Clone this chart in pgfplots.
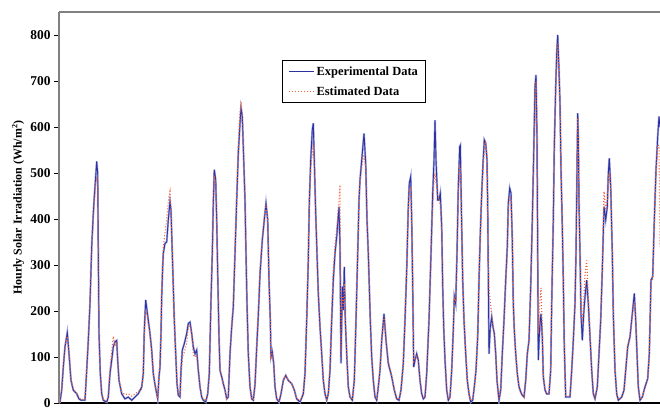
\documentclass[border=0pt]{standalone}
\usepackage{pgfplots}
\pgfplotsset{compat=1.18}
\usepackage{pgfplotstable}
\usepackage{fontspec}
\setmainfont{Liberation Serif}
\definecolor{expblue}{RGB}{45,50,160}
\definecolor{exphalo}{RGB}{165,170,222}
\definecolor{estorange}{RGB}{240,95,55}
\pgfplotstableread{
x exp est
59 0 0
60 2 2
61.7 28 30
63.3 78 80
65 122 125
67.3 153 145
69 107 110
71 49 50
73.3 28 30
76.7 20 22
79 9 12
81 6 8
85 6 8
86.7 71 75
88.3 136 140
90 216 220
91.7 340 330
93.3 412 400
94.3 448 440
95.7 492 480
96.7 525 490
97.7 499 470
98.3 325 320
99 151 150
100.3 64 60
101.7 20 20
103.3 6 8
106.7 2 5
108.3 13 15
110 64 75
111.7 93 110
113.3 122 145
115 133 125
116.7 136 130
117.7 93 95
119 49 50
121.7 20 25
125 9 18
128.3 13 20
131.7 6 15
135 13 20
138.3 20 25
141.7 35 30
143.3 64 60
144.3 158 150
145.7 224 200
147 202 195
148.3 180 170
150 151 150
151.7 115 110
153.3 64 60
155 40 40
156.7 20 20
157.7 9 10
159 57 60
160 78 90
161 151 160
161.7 231 240
162.7 296 310
163.3 325 340
165 347 370
166.7 350 400
168.3 398 440
170 438 460
171 419 420
172.3 325 330
173.3 253 250
174.3 180 180
175.7 107 110
177 42 45
178.3 17 20
180 13 15
181 71 60
182.3 115 100
184.3 129 110
186.7 151 130
188.3 173 165
190 176 170
191.7 151 150
193.3 122 105
195 107 100
196.7 115 105
198.3 71 75
200 35 35
201.7 13 15
203.3 6 8
205.7 2 5
207.7 20 20
209.3 64 70
211 224 230
212.3 325 330
213.3 434 440
214.3 507 490
215.7 485 480
216.7 398 400
217.7 282 290
219 144 150
220 71 75
221.7 57 55
223.3 42 40
225 28 28
226.7 9 10
228.3 13 15
230 107 110
231.7 165 170
233.3 209 215
235 325 330
236.7 441 450
238.3 543 560
240 608 630
241 641 655
242.3 623 630
243.3 557 560
245 441 440
246 325 320
247 216 210
248.3 107 105
250 35 35
251.7 9 10
253.3 6 8
255 40 40
256.7 120 130
258.3 190 200
260 280 290
262.3 354 360
264.3 398 410
266 434 425
267.7 398 400
269 267 270
270.3 180 180
271 100 100
272.3 111 110
273.7 86 85
275 35 35
276.7 9 10
279 2 5
281 20 20
283.3 49 50
285.7 60 60
288.3 49 50
291.7 42 42
294.3 28 28
296.7 9 10
300 2 5
303.3 20 20
305 64 70
306.7 180 190
308.3 311 320
309.3 434 430
310.7 528 510
312.3 594 540
313.3 608 560
314.3 528 520
315.7 412 420
317 325 330
318.3 238 240
320 165 170
321.7 107 110
323.3 49 50
325 20 20
326.7 6 8
328.3 20 20
330 71 80
331.7 180 200
333.3 267 290
335 325 340
336.7 361 380
339 427 440
340 340 474
341 86 100
342.3 253 230
343.3 202 210
344.3 296 260
345.3 180 180
346.7 107 110
348.3 35 35
350 13 13
352.3 6 8
354.3 49 50
356 180 190
357.7 325 330
359 441 440
360 485 480
362.3 543 520
364 586 540
365.7 521 510
367 398 400
368.3 325 330
369.3 253 260
370.3 180 180
371.7 100 100
373.3 49 50
375 13 13
376.7 6 8
378.3 35 35
380 71 75
381.7 136 140
384 194 185
385 165 170
386 136 140
388.3 86 90
391.7 57 60
394.3 28 30
396.7 9 10
399 6 8
401 28 30
403.3 86 90
405 180 190
406.7 289 300
408.3 427 420
409.3 478 460
410.7 492 470
411.7 398 400
412.7 253 260
413.7 78 90
415 93 95
416.7 107 105
418.3 93 90
420 49 50
421.7 20 20
423.3 9 10
425 13 13
426.7 64 65
429 180 180
431 325 320
432.7 456 430
434 528 480
435 615 500
436 528 480
437.7 441 450
439 441 445
440.3 456 430
441.7 383 380
442.7 253 260
443.7 165 170
445 93 95
446.7 28 30
448.3 6 8
450 13 13
451.7 71 75
453.3 158 160
454.3 231 230
455.7 216 220
457 325 330
458.3 470 460
459.7 557 520
460.3 560 500
461.7 383 390
462.7 267 270
464 180 180
465.7 107 110
467.3 49 50
469 20 20
470.7 2 5
472.7 6 8
474.3 35 35
476 71 75
477.7 144 150
479 267 260
480.3 369 360
481.7 456 450
483 521 510
484.3 572 550
485.7 565 565
487 528 540
487.7 427 420
488.3 282 300
489 107 250
490.3 165 220
491.7 187 190
493 165 170
494.3 151 150
495.7 107 110
497 49 50
499 6 8
500.7 28 30
502.3 107 110
504 180 180
505.7 267 260
507.3 340 330
508.3 434 420
509.7 467 450
511 456 440
512.3 354 350
513.3 216 220
514.3 158 160
515.7 107 110
517.3 64 65
519 35 35
520.7 24 25
522.3 17 18
524 13 13
525.7 49 50
527.3 107 105
529 136 135
530.7 253 250
532.3 398 390
533.7 543 530
535 688 670
536 713 700
537 579 580
537.7 325 330
538.3 93 150
539.7 165 220
541 194 250
542.3 144 160
543.3 57 60
545 28 28
546.7 20 20
549 20 20
550.7 71 75
551.7 216 220
553.3 398 400
554.3 557 550
555.7 688 680
556.7 760 750
557.7 800 780
559 724 720
560 652 650
561 507 510
562.3 383 390
563.3 267 270
564.3 122 130
565.7 13 15
567.7 13 15
570 13 15
571.7 71 75
573.3 136 140
575 216 220
576 325 330
577 507 500
577.7 630 620
578.3 579 570
579 434 440
580 325 320
581 194 200
582.3 136 170
583.7 194 220
585 231 280
586.7 267 310
588.3 216 230
590 144 150
591.7 71 75
593.3 20 20
595 9 10
597.3 35 35
599 107 110
600.7 180 180
602.3 289 290
604 427 460
605.7 398 420
607.3 427 440
608.3 499 480
609.3 532 500
610.7 470 470
612.3 325 330
613.3 194 200
615 71 75
616.7 20 20
618.3 6 8
621.7 13 13
624 28 28
625.7 71 75
627.7 122 125
630 144 145
632.3 194 190
634.3 238 220
635.7 180 185
637 107 110
638.3 35 35
640 6 8
642.3 13 13
645 35 35
647.7 53 55
649.3 107 110
651 267 260
652.7 275 270
654.3 398 390
656 507 500
657.7 579 560
659 623 560
660 600 340
}\data

\begin{document}
\begin{tikzpicture}
\begin{axis}[
  scale only axis, width=601bp, height=391bp,
  xmin=59, xmax=660, ymin=0, ymax=850,
  axis x line=bottom, axis y line=left, axis line style={-},
  x axis line style={black, line width=1.2bp},
  y axis line style={gray, line width=1.2bp},
  xtick=\empty,
  ytick={0,100,...,800},
  tick align=outside, major tick length=5bp,
  ytick style={black, line width=0.6bp},
  /pgf/number format/assume math mode=true,
  yticklabel style={font=\fontsize{13.5}{13.5}\selectfont\bfseries},
  ylabel={Hourly Solar Irradiation (Wh/m\textsuperscript{2})},
  ylabel style={font=\fontsize{12}{12}\selectfont\bfseries, at={(axis description cs:-0.068,0.5)}, anchor=center},
  legend style={at={(axis description cs:0.371,0.877)}, anchor=north west, draw=black, line width=1bp,
    font=\fontsize{12.5}{12.5}\selectfont\bfseries, row sep=6bp, inner xsep=6bp, inner ysep=4bp},
  legend cell align=left,
  legend image code/.code={\draw[#1] (0bp,0bp) -- (25bp,0bp);},
]
\addplot[exphalo, line width=2bp, forget plot] table[x=x,y=exp]{\data};
\addplot[expblue, line width=0.9bp] table[x=x,y=exp]{\data};
\addplot[estorange, line width=1.1bp, dash pattern=on 1bp off 2bp] table[x=x,y=est]{\data};
\legend{Experimental Data, Estimated Data}
\end{axis}
\draw[gray, line width=1.2bp] (0,391bp) -- (601bp,391bp);
\pgfresetboundingbox
\path[use as bounding box] (-59bp,-7bp) rectangle (601bp,403bp);
\end{tikzpicture}
\end{document}
